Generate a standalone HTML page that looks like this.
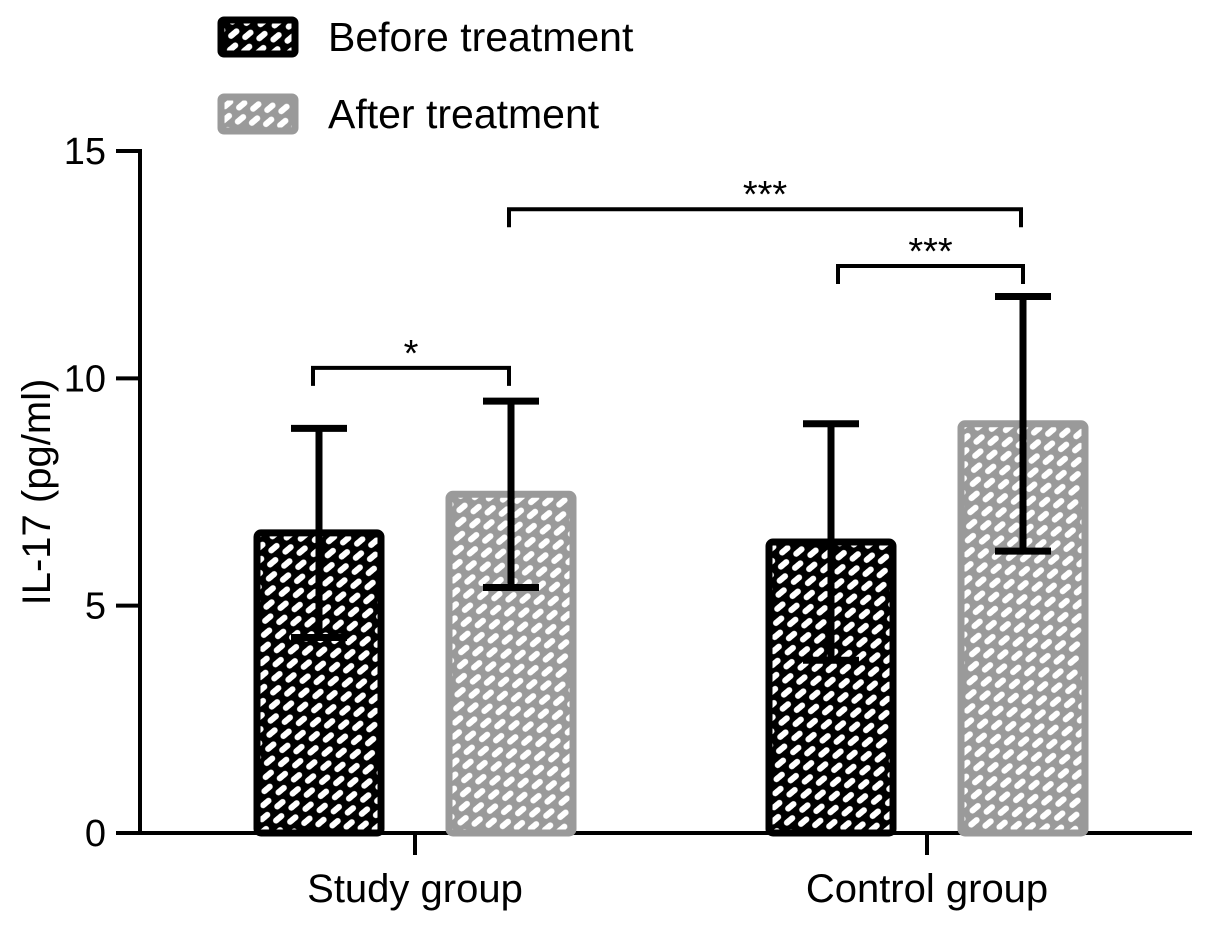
<!DOCTYPE html>
<html><head><meta charset="utf-8"><style>
body{margin:0;background:#fff}
svg{display:block;font-family:"Liberation Sans",sans-serif}
</style></head><body>
<svg id="c" width="1205" height="925">
<defs>
<pattern id="pb" width="20" height="20" patternUnits="userSpaceOnUse" patternTransform="rotate(-40)">
<rect width="20" height="20" fill="#000"/>
<rect x="1" y="3" width="13" height="6" rx="3" fill="#fff"/>
<rect x="11" y="13" width="13" height="6" rx="3" fill="#fff"/>
<rect x="-9" y="13" width="13" height="6" rx="3" fill="#fff"/>
</pattern>
<pattern id="pg" width="20" height="20" patternUnits="userSpaceOnUse" patternTransform="rotate(-40)">
<rect width="20" height="20" fill="#9a9a9a"/>
<rect x="1" y="3" width="13" height="6" rx="3" fill="#fff"/>
<rect x="11" y="13" width="13" height="6" rx="3" fill="#fff"/>
<rect x="-9" y="13" width="13" height="6" rx="3" fill="#fff"/>
</pattern>
</defs>
<g id="plot"></g>
</svg>
<script>
const categories=["Study group","Control group"];
const beforeVals=[6.6,6.4];
const afterVals=[7.45,9.0];
const beforeSD=[2.3,2.6];
const afterSD=[2.05,2.8];
const yTicks=[0,5,10,15];
const sigLabels=["*","***","***"];
const sigLevels=[10.23,13.72,12.47];

const NS="http://www.w3.org/2000/svg";
const g=document.getElementById("plot");
function y(v){return 833-v*(833-151)/15;}
function mk(t,a,txt){const e=document.createElementNS(NS,t);for(const k in a)e.setAttribute(k,a[k]);if(txt!==undefined)e.textContent=txt;g.appendChild(e);return e;}
const groupCenter=[415,927], off=96, bw=130;
function bx(gi,s){return groupCenter[gi]+(s?off:-off);}
let e=mk("line",{x1:140,y1:149,x2:140,y2:835,stroke:"#000","stroke-width":4});


e=mk("line",{x1:138,y1:833,x2:1192,y2:833,stroke:"#000","stroke-width":4});


yTicks.forEach(t=>{
 let l=mk("line",{x1:116,y1:y(t),x2:140,y2:y(t),stroke:"#000","stroke-width":4});
 
 
 let tx=mk("text",{x:106,y:y(t)+13,"text-anchor":"end","font-size":38},t);
 
 
});
e=mk("text",{x:0,y:0,"font-size":40,"text-anchor":"middle",transform:"translate(50,492) rotate(-90)"},"IL-17 (pg/ml)");


categories.forEach((c,i)=>{
 let l=mk("line",{x1:groupCenter[i],y1:833,x2:groupCenter[i],y2:855,stroke:"#000","stroke-width":4});
 
 
 let tx=mk("text",{x:groupCenter[i],y:902,"text-anchor":"middle","font-size":40},c);
 
 
});
function bar(gi,s,v,sd){
 const cx=bx(gi,s), col=s?"#9a9a9a":"#000";
 let r=mk("rect",{x:cx-bw/2+3,y:y(v),width:bw-6,height:833-y(v),fill:s?"url(#pg)":"url(#pb)",stroke:col,"stroke-width":7,rx:4});
 
 
 let p=mk("path",{d:`M${cx} ${y(v-sd)}V${y(v+sd)}M${cx-28} ${y(v+sd)}H${cx+28}M${cx-28} ${y(v-sd)}H${cx+28}`,stroke:"#000","stroke-width":7,fill:"none"});
 
 
}
categories.forEach((c,i)=>{bar(i,0,beforeVals[i],beforeSD[i]);bar(i,1,afterVals[i],afterSD[i]);});
const sigPairs=[[bx(0,0)-6,bx(0,1)-2],[bx(0,1)-2,bx(1,1)-2],[bx(1,1)-185,bx(1,1)]];
sigPairs.forEach((p,i)=>{
 const yy=y(sigLevels[i]);
 let l=mk("path",{d:`M${p[0]} ${yy+18}V${yy}H${p[1]}V${yy+18}`,stroke:"#000","stroke-width":4,fill:"none"});
 
 
 let t=mk("text",{x:(p[0]+p[1])/2,y:yy-2,"text-anchor":"middle","font-size":38},sigLabels[i]);
 
 
});
[["Before treatment","url(#pb)","#000",37],["After treatment","url(#pg)","#9a9a9a",114]].forEach((L,i)=>{
 let r=mk("rect",{x:221,y:L[3]-17,width:74,height:34,fill:L[1],stroke:L[2],"stroke-width":7,rx:3});
 
 
 let t=mk("text",{x:328,y:L[3]+14,"font-size":41},L[0]);
 
 
});
</script>
</body></html>
